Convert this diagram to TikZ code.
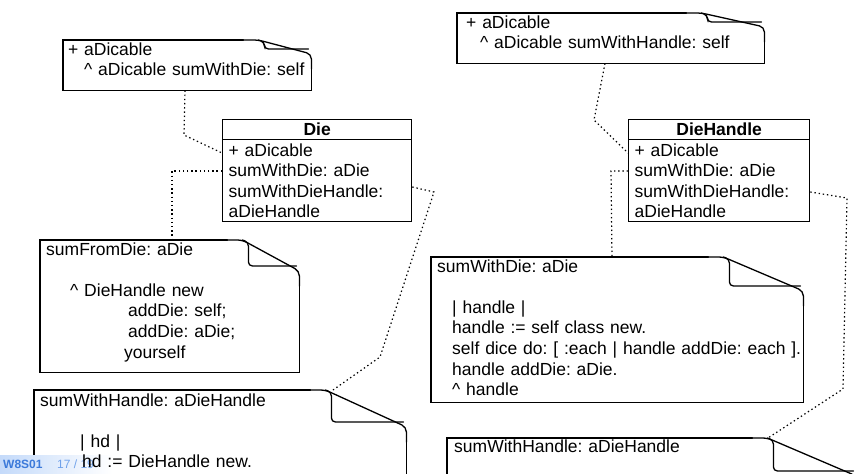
\documentclass[tikz,border=0pt]{standalone}
\usepackage{fontspec}
\setmainfont{Liberation Sans}
\usepackage{tikz}
\usetikzlibrary{shapes.multipart}
\frenchspacing

\definecolor{footblue}{RGB}{60,122,218}
\definecolor{footlight}{RGB}{112,162,234}
\definecolor{footband}{RGB}{196,218,250}

\newcommand\umlfont{\fontsize{17.5}{20.6}\selectfont}
% note outline with a dog-ear: node, fold width, fold depth
\newcommand\notefold[3]{%
  \draw[noteline, rounded corners=5pt]
    ([xshift=-#2pt-15pt]#1.north east) -- ([xshift=-#2pt]#1.north east)
    -- ([yshift=-#3pt-5pt]#1.north east) -- ([yshift=-#3pt-20pt]#1.north east);
  \draw[noteline]
    ([xshift=-#2pt-15pt]#1.north east) -- (#1.north west) -- (#1.south west)
    -- (#1.south east) -- ([yshift=-#3pt-20pt]#1.north east);
  \draw[noteline, rounded corners=4pt]
    ([xshift=-#2pt]#1.north east) -- ([xshift=-#2pt+6pt, yshift=-2pt]#1.north east)
    -- ([xshift=-#2pt+6pt, yshift=-#3pt]#1.north east)
    -- ([xshift=-3pt, yshift=-#3pt]#1.north east);
}

\begin{document}
\begin{tikzpicture}[
  x=1pt, y=-1pt,
  umlclass/.style={rectangle split, rectangle split parts=2, draw,
    line width=1.3pt, anchor=north west, inner xsep=6pt, inner ysep=3pt,
    align=left, font=\umlfont},
  notebg/.style={anchor=north west, inner sep=0pt},
  notetxt/.style={anchor=base west, inner sep=0pt, text width=420pt,
    align=left, font=\umlfont},
  noteline/.style={line width=1.3pt, line cap=round},
  conn/.style={line width=1.2pt, dash pattern=on 1.4pt off 2.8pt}
]
  \useasboundingbox (0,0) rectangle (868,474);
  \clip (0,0) rectangle (868,474);

  %--- Die side ---
  \node[umlclass, text width=177pt] (die) at (222,119)
    {\makebox[\linewidth][c]{\bfseries Die}
     \nodepart{two}+ aDicable\\ sumWithDie: aDie\\ sumWithDieHandle:\\ aDieHandle};
  \node[notebg, minimum width=248pt, minimum height=50pt]  (n1) at (63,40) {};
  \node[notebg, minimum width=259pt, minimum height=132pt] (n2) at (40,240) {};
  \node[notebg, minimum width=372pt, minimum height=150pt] (n3) at (34,390) {};
  \notefold{n1}{53}{9}
  \notefold{n2}{57}{26}
  \notefold{n3}{81}{32}

  %--- DieHandle side ---
  \node[umlclass, text width=169pt] (dh) at (628,119)
    {\makebox[\linewidth][c]{\bfseries DieHandle}
     \nodepart{two}+ aDicable\\ sumWithDie: aDie\\ sumWithDieHandle:\\ aDieHandle};
  \node[notebg, minimum width=307pt, minimum height=50pt]  (n4) at (457,13) {};
  \node[notebg, minimum width=372pt, minimum height=145pt] (n5) at (431,257) {};
  \node[notebg, minimum width=409pt, minimum height=100pt] (n6) at (447,438) {};
  \notefold{n4}{63}{9}
  \notefold{n5}{80}{29}
  \notefold{n6}{89}{33}

  % Links
  \draw[conn] (n1.south -| 185,0) -- (184,135) -- (die.west |- 0,153);
  \draw[conn] (die.west |- 0,171) -- (172,171) -- (n2.north -| 172,0);
  \draw[conn] (die.east |- 0,187) -- (434,192) -- (380,357) -- (n3.north -| 333,0);
  \draw[conn] (n4.south -| 605,0) -- (594,120) -- (dh.west |- 0,153);
  \draw[conn] (dh.west |- 0,171) -- (611,171) -- (n5.north -| 612,0);
  \draw[conn] (dh.east |- 0,192) -- (847,198) -- (843,389) -- (n6.north -| 768,0);

  % Slide footer
  \shade[left color=footband, right color=white] (0,455) rectangle (112,474);
  \node[anchor=base west, inner sep=0pt, text=footblue,
        font=\fontsize{12}{14}\selectfont\bfseries] (fid) at (3,468) {W8S01};
  \node[anchor=base west, inner sep=0pt, text=footlight,
        font=\fontsize{12}{14}\selectfont] (fpg) at (57,468) {17 / 19};

  % Note texts
  \node[notetxt] (t1) at (68,55)
    {+ aDicable\\ \hspace*{16pt}\textasciicircum{} aDicable sumWithDie: self};
  \node[notetxt] (t2) at (46,255)
    {sumFromDie: aDie\\[20.6pt]
     \hspace*{24pt}\textasciicircum{} DieHandle new\\
     \hspace*{82pt}addDie: self;\\
     \hspace*{82pt}addDie: aDie;\\
     \hspace*{78pt}yourself};
  \node[notetxt] (t3) at (40,406)
    {sumWithHandle: aDieHandle\\[20.6pt]
     \hspace*{40pt}| hd |\\
     \hspace*{42pt}hd := DieHandle new.};
  \node[notetxt] (t4) at (466,28)
    {+ aDicable\\ \hspace*{14pt}\textasciicircum{} aDicable sumWithHandle: self};
  \node[notetxt] (t5) at (437,272)
    {sumWithDie: aDie\\[20.6pt]
     \hspace*{15pt}| handle |\\
     \hspace*{15pt}handle := self class new.\\
     \hspace*{15pt}self dice do: [ :each | handle addDie: each ].\\
     \hspace*{15pt}handle addDie: aDie.\\
     \hspace*{15pt}\textasciicircum{} handle};
  \node[notetxt] (t6) at (454,452) {sumWithHandle: aDieHandle};
\end{tikzpicture}
\end{document}
